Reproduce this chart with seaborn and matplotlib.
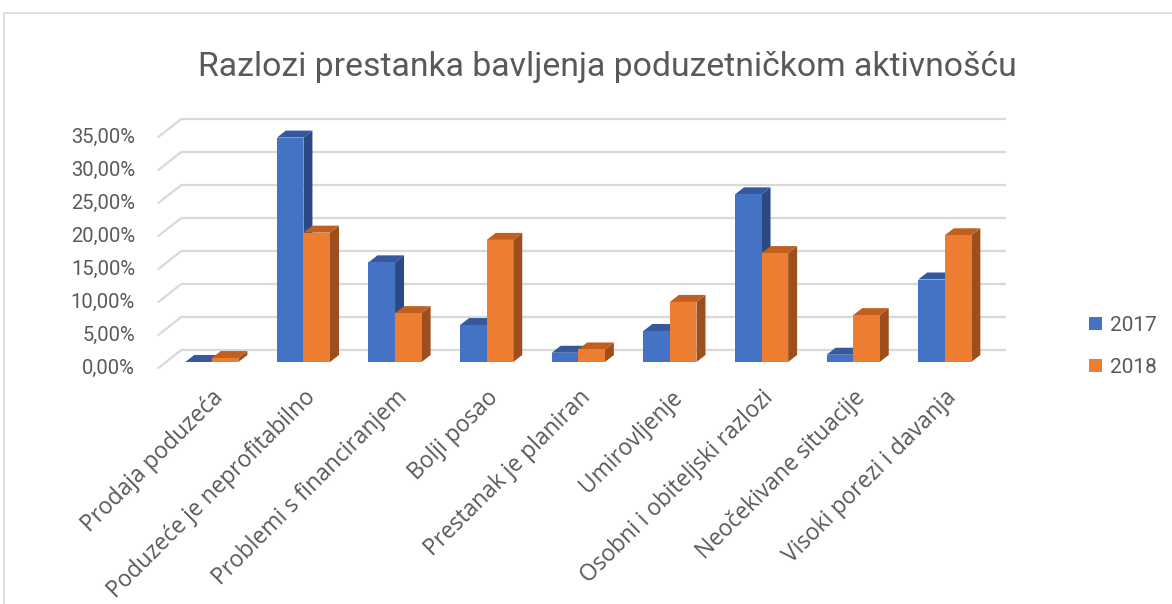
import numpy as np
import pandas as pd
import matplotlib
matplotlib.use("Agg")
import matplotlib.pyplot as plt
import matplotlib.transforms as mtransforms
from matplotlib.patches import Polygon, Patch
from matplotlib.lines import Line2D
import seaborn as sns

# data (percent)
categories = ["Prodaja poduzeća", "Poduzeće je neprofitabilno", "Problemi s financiranjem",
              "Bolji posao", "Prestanak je planiran", "Umirovljenje",
              "Osobni i obiteljski razlozi", "Neočekivane situacije", "Visoki porezi i davanja"]
years = ["2017", "2018"]
values_2017 = [0.0, 34.0, 15.1, 5.6, 1.4, 4.7, 25.4, 1.1, 12.5]
values_2018 = [0.6, 19.6, 7.4, 18.5, 1.9, 9.1, 16.5, 7.1, 19.2]
y_ticks = [0, 5, 10, 15, 20, 25, 30, 35]

front_colors = ["#4472C4", "#ED7D31"]
top_colors = ["#35599C", "#C05F1F"]
side_colors = ["#2B4A83", "#9C4F1D"]
grid_color = "#d9d9d9"
text_color = "#595959"

df = pd.DataFrame({
    "category": categories * 2,
    "year": [years[0]] * len(categories) + [years[1]] * len(categories),
    "value": values_2017 + values_2018,
})

sns.set_theme(style="white")
plt.rcParams["font.family"] = ["Roboto", "DejaVu Sans"]

DPI = 100
fig = plt.figure(figsize=(11.72, 6.04), dpi=DPI)
ax = fig.add_axes([166 / 1172, 242 / 604, 824.6 / 1172, 231 / 604])

sns.barplot(data=df, x="category", y="value", hue="year", order=categories,
            hue_order=years, palette=front_colors, saturation=1, width=0.58,
            ax=ax, legend=False, zorder=3, linewidth=0)
ax.set_xlim(-0.5, len(categories) - 0.5)
ax.set_ylim(0, 35)
for s in ax.spines.values():
    s.set_visible(False)
ax.set_ylabel("")
ax.set_xlabel("")
ax.set_yticks([])
ax.grid(False)

def px(dx, dy):
    return mtransforms.ScaledTranslation(dx / DPI, dy / DPI, fig.dpi_scale_trans)

# back wall gridlines and floor diagonals (pseudo 3D like Excel)
front_off = (-7.7, -6)
back_off = (15.3, 12)
x0, x1 = ax.get_xlim()
for v in y_ticks:
    ax.plot([x0, x1], [v, v], color=grid_color, lw=1.6, zorder=0,
            transform=ax.transData + px(*back_off), clip_on=False, solid_capstyle="butt")
    p_front = ax.transData.transform((x0, v)) + np.array(front_off)
    p_back = ax.transData.transform((x0, v)) + np.array(back_off)
    pts = ax.transData.inverted().transform(np.array([p_front, p_back]))
    ax.plot(pts[:, 0], pts[:, 1], color=grid_color, lw=1.6, zorder=0, clip_on=False)
    lab = f"{v:.2f}%".replace(".", ",")
    ax.text(x0, v, lab, transform=ax.transData + px(-31, -6), ha="right", va="center",
            fontsize=14.5, color=text_color)

# depth faces for each bar
fig.canvas.draw()
depth = np.array([9.0, 7.0])
bars = [p for p in ax.patches]
n = len(categories)
for i, bar in enumerate(bars):
    k = i // n
    x, y = bar.get_x(), bar.get_y()
    w, h = bar.get_width(), bar.get_height()
    tl = ax.transData.transform((x, y + h))
    tr = ax.transData.transform((x + w, y + h))
    br = ax.transData.transform((x + w, y))
    top = np.array([tl, tr, tr + depth, tl + depth])
    side = np.array([br, tr, tr + depth, br + depth])
    inv = ax.transData.inverted()
    ax.add_patch(Polygon(inv.transform(side), closed=True, facecolor=side_colors[k],
                         edgecolor="none", zorder=2, clip_on=False))
    ax.add_patch(Polygon(inv.transform(top), closed=True, facecolor=top_colors[k],
                         edgecolor="none", zorder=2, clip_on=False))

ax.tick_params(axis="x", length=0, pad=17)
ax.set_xticks(range(n))
ax.set_xticklabels(categories, rotation=45, ha="right", rotation_mode="anchor",
                   fontsize=16.4, color=text_color)
for t in ax.get_xticklabels():
    t.set_fontfamily(["Open Sans", "DejaVu Sans"])

fig.text(0.5185, 0.889, "Razlozi prestanka bavljenja poduzetničkom aktivnošću",
         ha="center", va="center", fontsize=24.3, color=text_color)

handles = [Patch(facecolor=c, edgecolor="none", label=y) for c, y in zip(front_colors, years)]
fig.legend(handles=handles, loc="center left", bbox_to_anchor=(1089 / 1172, 257.5 / 604),
           frameon=False, fontsize=15, labelcolor=text_color, handlelength=0.6,
           handleheight=0.6, handletextpad=0.4, labelspacing=1.1, borderpad=0,
           borderaxespad=0)

# chart frame
fig.add_artist(Line2D([4 / 1172, 1], [1 - 13 / 604] * 2, color=grid_color, lw=1.2,
                      transform=fig.transFigure))
fig.add_artist(Line2D([4 / 1172] * 2, [0, 1 - 13 / 604], color=grid_color, lw=1.2,
                      transform=fig.transFigure))

fig.savefig("out.png", dpi=DPI)
